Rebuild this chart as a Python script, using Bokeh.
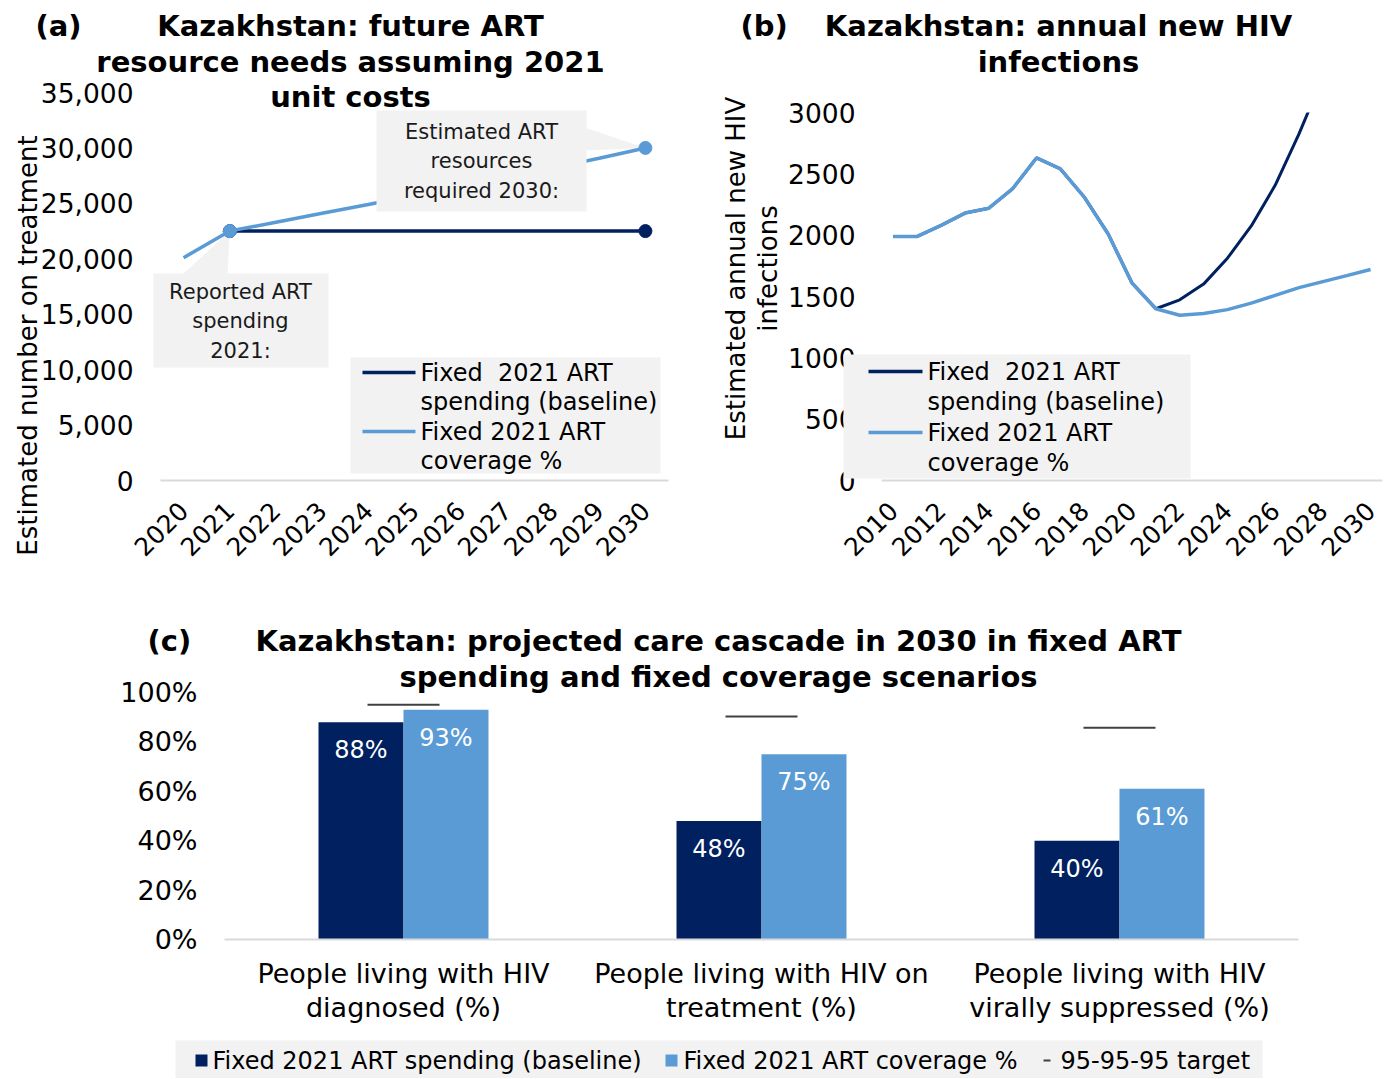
import numpy as np
from math import pi
from bokeh.plotting import figure
from bokeh.models import (ColumnDataSource, LabelSet,
                          FixedTicker, NumeralTickFormatter, PrintfTickFormatter, Range1d)
from bokeh.core.properties import value
from bokeh.transform import dodge
from bokeh.layouts import column, row
from bokeh.embed import file_html
from bokeh.resources import INLINE

# ---------------- data ----------------
# (a) future ART resource needs (number on treatment)
years_a = [2020, 2021, 2022, 2023, 2024, 2025, 2026, 2027, 2028, 2029, 2030]
baseline_a = [np.nan, 22500, 22500, 22500, 22500, 22500, 22500, 22500, 22500, 22500, 22500]
coverage_a = [20100, 22500, 23300, 24100, 24900, 25730, 26560, 27380, 28200, 29070, 30000]
marked_years_a = [2021, 2030]
ticks_a = [0, 5000, 10000, 15000, 20000, 25000, 30000, 35000]

# (b) annual new HIV infections
years_b = list(range(2010, 2031))
baseline_b = [1990, 1990, 2080, 2180, 2220, 2380, 2630, 2540, 2310, 2010, 1610,
              1400, 1473, 1601, 1812, 2075, 2406, 2826, 3290, 3810, 4380]
coverage_b = [1990, 1990, 2080, 2180, 2220, 2380, 2630, 2540, 2310, 2010, 1610,
              1400, 1347, 1362, 1393, 1446, 1509, 1572, 1621, 1670, 1720]
ticks_b = [0, 500, 1000, 1500, 2000, 2500, 3000]
xticks_b = years_b[::2]

# (c) care cascade 2030
stages = ["People living with HIV diagnosed (%)",
          "People living with HIV on treatment (%)",
          "People living with HIV virally suppressed (%)"]
stage_tick_labels = ["People living with HIV\ndiagnosed (%)",
                     "People living with HIV on\ntreatment (%)",
                     "People living with HIV\nvirally suppressed (%)"]
baseline_c = [88, 48, 40]
coverage_c = [93, 75, 61]
target_c = [95, 90.25, 85.74]
ticks_c = [0, 20, 40, 60, 80, 100]

# ---------------- style ----------------
DARK = "#002060"
LIGHT = "#5B9BD5"
BOXFILL = "#F2F2F2"
TARGET = "#404040"
FONT = "DejaVu Sans"
TXT = "black"


class Frame:
    """Maps page pixels to data units of a figure's plotting frame."""
    def __init__(self, left, right, top, bottom, x0, x1, y0, y1):
        self.l, self.r, self.t, self.b = left, right, top, bottom
        self.x0, self.x1, self.y0, self.y1 = x0, x1, y0, y1

    def x(self, px):
        return self.x0 + (px - self.l) / (self.r - self.l) * (self.x1 - self.x0)

    def y(self, py):
        return self.y0 + (self.b - py) / (self.b - self.t) * (self.y1 - self.y0)


def base_style(p, tick_size="26.5px"):
    p.outline_line_color = None
    p.background_fill_color = "white"
    p.border_fill_color = "white"
    p.xgrid.grid_line_color = None
    p.ygrid.grid_line_color = None
    for ax in (p.xaxis[0], p.yaxis[0]):
        ax.major_tick_line_color = None
        ax.minor_tick_line_color = None
        ax.major_tick_out = 0
        ax.major_tick_in = 0
        ax.minor_tick_out = 0
        ax.major_label_text_font = FONT
        ax.major_label_text_color = TXT
    p.yaxis.axis_line_color = None
    p.yaxis.major_label_text_font_size = tick_size
    p.xaxis.axis_line_color = "#D9D9D9"
    p.xaxis.axis_line_width = 2


def text(p, F, px, py, s, size, bold=False, align="left", angle=0.0, color=TXT, lh=1.2):
    p.text(x=[F.x(px)], y=[F.y(py)], text=[s], angle=angle,
           text_font=value(FONT), text_font_size=value(f"{size}px"),
           text_font_style=value("bold" if bold else "normal"),
           text_align=align, text_baseline="middle", text_color=color,
           text_line_height=lh, level="overlay")


def box(p, F, l, r, t, b, color=BOXFILL):
    p.quad(left=[F.x(l)], right=[F.x(r)], top=[F.y(t)], bottom=[F.y(b)],
           fill_color=color, line_color=None, level="overlay")


def line_legend(p, F, bx, glyph, text_x, rows, font=24):
    # bx: background (l, r, t, b); glyph: (x0, x1); rows: (y, label, colour or None)
    box(p, F, *bx)
    for y, lab, col in rows:
        if col is not None:
            box(p, F, glyph[0], glyph[1], y - 1.75, y + 1.75, color=col)
        text(p, F, text_x, y, lab, font)


NB = "\u00a0"

# ================= (a) =================
FA = Frame(160, 668, 92, 480, 2019.5, 2030.5, 0, 35000)
pa = figure(width=690, height=588, x_range=Range1d(FA.x0, FA.x1), y_range=Range1d(FA.y0, FA.y1),
            output_backend="svg", toolbar_location=None, title=None, frame_align=False,
            min_border_left=160, min_border_right=22, min_border_top=92, min_border_bottom=108)
base_style(pa)
pa.yaxis.ticker = FixedTicker(ticks=ticks_a)
pa.yaxis.formatter = NumeralTickFormatter(format="0,0")
pa.yaxis.major_label_standoff = 27
pa.xaxis.ticker = FixedTicker(ticks=years_a)
pa.xaxis.major_label_orientation = pi / 4
pa.xaxis.major_label_text_font_size = "25px"
pa.xaxis.major_label_standoff = 26

src_a = ColumnDataSource(dict(year=years_a, baseline=baseline_a, coverage=coverage_a))
mk_idx = [years_a.index(y) for y in marked_years_a]
mk_a = ColumnDataSource(dict(year=[years_a[i] for i in mk_idx],
                             baseline=[baseline_a[i] for i in mk_idx],
                             coverage=[coverage_a[i] for i in mk_idx]))

# callout pointers (under the lines)
i21 = years_a.index(2021)
i30 = years_a.index(2030)
pa.patch([FA.x(182), FA.x(227), years_a[i21]], [FA.y(274), FA.y(274), coverage_a[i21]],
         fill_color=BOXFILL, line_color=None)
pa.patch([FA.x(584), FA.x(584), years_a[i30]], [FA.y(127), FA.y(150), coverage_a[i30]],
         fill_color=BOXFILL, line_color=None)

pa.line('year', 'baseline', source=src_a, line_color=DARK, line_width=3.5)
pa.scatter('year', 'baseline', source=mk_a, size=13, fill_color=DARK, line_color=DARK)
pa.line('year', 'coverage', source=src_a, line_color=LIGHT, line_width=3.5)
pa.scatter('year', 'coverage', source=mk_a, size=13, fill_color=LIGHT, line_color=LIGHT)

# callout boxes + texts
box(pa, FA, 153, 328, 273, 367)
box(pa, FA, 376, 586, 110, 211)
text(pa, FA, 240, 321, "Reported ART\nspending\n2021:", 21, align="center", color="#1a1a1a", lh=1.24)
text(pa, FA, 481, 161, "Estimated ART\nresources\nrequired 2030:", 21, align="center", color="#1a1a1a", lh=1.24)

# legend
line_legend(pa, FA, (350, 660, 357, 473), (362, 415), 420,
            [(372, f"Fixed{NB} 2021 ART", DARK), (401, "spending (baseline)", None),
             (431, "Fixed 2021 ART", LIGHT), (460, "coverage %", None)])

# titles / axis label
text(pa, FA, 35, 25, "(a)", 29, bold=True)
text(pa, FA, 350, 25, "Kazakhstan: future ART", 29, bold=True, align="center")
text(pa, FA, 350, 61, "resource needs assuming 2021", 29, bold=True, align="center")
text(pa, FA, 350, 96, "unit costs", 29, bold=True, align="center")
text(pa, FA, 27, 345, "Estimated number on treatment", 26, align="center", angle=pi / 2)

# ================= (b) =================
# this figure starts at page x = 690
FB = Frame(881, 1382, 112, 480, 2009.5, 2030.5, 0, 3000)
pb = figure(width=700, height=588, x_range=Range1d(FB.x0, FB.x1), y_range=Range1d(FB.y0, FB.y1),
            output_backend="svg", toolbar_location=None, title=None, frame_align=False,
            min_border_left=191, min_border_right=8, min_border_top=112, min_border_bottom=108)
base_style(pb)
pb.yaxis.ticker = FixedTicker(ticks=ticks_b)
pb.yaxis.major_label_standoff = 26
pb.xaxis.ticker = FixedTicker(ticks=xticks_b)
pb.xaxis.major_label_orientation = pi / 4
pb.xaxis.major_label_text_font_size = "25px"
pb.xaxis.major_label_standoff = 26

src_b = ColumnDataSource(dict(year=years_b, baseline=baseline_b, coverage=coverage_b))
pb.line('year', 'baseline', source=src_b, line_color=DARK, line_width=3)
pb.line('year', 'coverage', source=src_b, line_color=LIGHT, line_width=3.5)

line_legend(pb, FB, (843, 1190, 354, 478), (868, 922), 927,
            [(371, f"Fixed{NB} 2021 ART", DARK), (401, "spending (baseline)", None),
             (432, "Fixed 2021 ART", LIGHT), (462, "coverage %", None)])

text(pb, FB, 740, 25, "(b)", 29, bold=True)
text(pb, FB, 1058, 25, "Kazakhstan: annual new HIV", 29, bold=True, align="center")
text(pb, FB, 1058, 61, "infections", 29, bold=True, align="center")
text(pb, FB, 735, 268, "Estimated annual new HIV", 26, align="center", angle=pi / 2)
text(pb, FB, 767, 268, "infections", 26, align="center", angle=pi / 2)

# ================= (c) =================
# this figure starts at page y = 588
pos_c = [i + 0.5 for i in range(len(stages))]
FC = Frame(224, 1298, 692, 939, 0, len(stages), 0, 100)
pc = figure(width=1390, height=490, x_range=Range1d(FC.x0, FC.x1), y_range=Range1d(FC.y0, FC.y1),
            output_backend="svg", toolbar_location=None, title=None, frame_align=False,
            min_border_left=224, min_border_right=92, min_border_top=104, min_border_bottom=139)
base_style(pc, tick_size="27px")
pc.yaxis.ticker = FixedTicker(ticks=ticks_c)
pc.yaxis.formatter = PrintfTickFormatter(format="%d%%")
pc.yaxis.major_label_standoff = 27
pc.xaxis.ticker = FixedTicker(ticks=pos_c)
pc.xaxis.major_label_overrides = {p: lab for p, lab in zip(pos_c, stage_tick_labels)}
pc.xaxis.major_label_text_font_size = "27px"
pc.xaxis.major_label_text_line_height = 1.1
pc.xaxis.major_label_standoff = 18

src_c = ColumnDataSource(dict(pos=pos_c, stage=stages, baseline=baseline_c, coverage=coverage_c,
                              target=target_c,
                              baseline_txt=[f"{v}%" for v in baseline_c],
                              coverage_txt=[f"{v}%" for v in coverage_c]))
BW = 0.2374
pc.vbar(x=dodge('pos', -BW / 2), top='baseline', width=BW, source=src_c,
        fill_color=DARK, line_color=None)
pc.vbar(x=dodge('pos', BW / 2), top='coverage', width=BW, source=src_c,
        fill_color=LIGHT, line_color=None)
pc.scatter('pos', 'target', source=src_c, marker="dash", size=72,
           line_color=TARGET, line_width=2)

for fld, off in (("baseline", -BW / 2), ("coverage", BW / 2)):
    pc.add_layout(LabelSet(x=dodge('pos', off), y=fld, text=fld + "_txt", source=src_c,
                           y_offset=-28, text_align="center", text_baseline="middle",
                           text_color="white", text_font=value(FONT), text_font_size=value("24px")))

# legend (bottom)
box(pc, FC, 175, 1262, 1040, 1078)
box(pc, FC, 195, 207, 1054, 1066, color=DARK)
text(pc, FC, 212, 1060, "Fixed 2021 ART spending (baseline)", 24)
box(pc, FC, 665, 677, 1054, 1066, color=LIGHT)
text(pc, FC, 683, 1060, "Fixed 2021 ART coverage %", 24)
box(pc, FC, 1043, 1050, 1059, 1061, color=TARGET)
text(pc, FC, 1060, 1060, "95-95-95 target", 24)

text(pc, FC, 147, 640, "(c)", 29, bold=True)
text(pc, FC, 718, 640, "Kazakhstan: projected care cascade in 2030 in fixed ART", 29,
     bold=True, align="center")
text(pc, FC, 718, 676, "spending and fixed coverage scenarios", 29, bold=True, align="center")

layout = column(row(pa, pb), pc)
open("out.html", "w").write(file_html(layout, INLINE))
